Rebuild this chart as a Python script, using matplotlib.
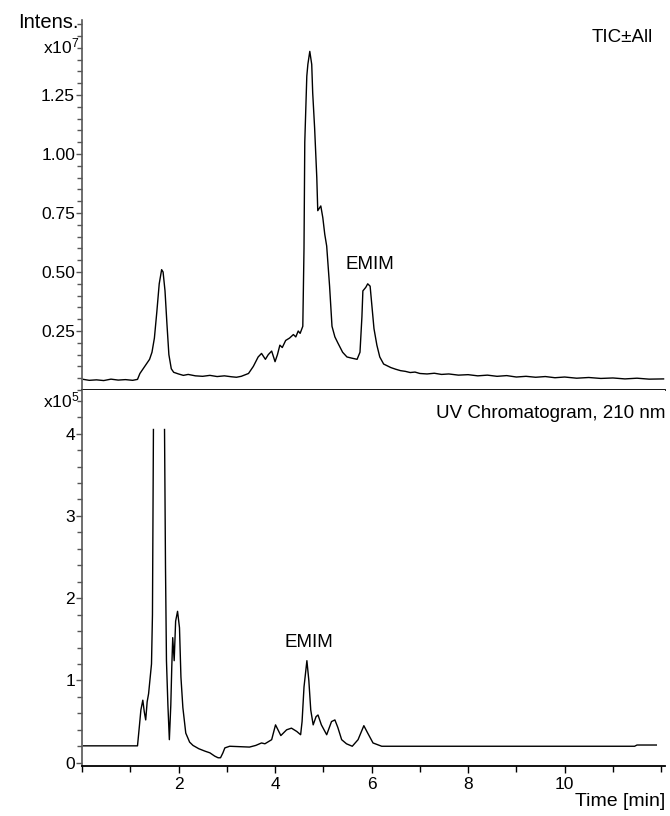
import matplotlib
matplotlib.use("Agg")
import matplotlib.pyplot as plt
from matplotlib.ticker import MultipleLocator, FixedLocator

plt.rcParams['font.family'] = ['Liberation Sans', 'DejaVu Sans']
plt.rcParams['mathtext.fontset'] = 'custom'
plt.rcParams['mathtext.rm'] = 'Liberation Sans'
plt.rcParams['mathtext.it'] = 'Liberation Sans'

# ---- TIC trace (intensity in units of 1e7) ----
tic_time = [0.03, 0.15, 0.3, 0.45, 0.6, 0.75, 0.9, 1.05, 1.15, 1.2, 1.3, 1.4, 1.45, 1.5,
            1.55, 1.6, 1.65, 1.68, 1.72, 1.76, 1.8, 1.85, 1.9, 2.0, 2.1, 2.2, 2.35, 2.5,
            2.65, 2.8, 2.95, 3.1, 3.2, 3.3, 3.45, 3.55, 3.65, 3.72, 3.8, 3.86, 3.93,
            4.0, 4.05, 4.1, 4.15, 4.22, 4.3, 4.38, 4.43, 4.48, 4.52, 4.575, 4.6, 4.616,
            4.658, 4.68, 4.72, 4.76, 4.78, 4.82, 4.865, 4.885, 4.948, 4.99, 5.03, 5.07,
            5.13, 5.18, 5.24, 5.30, 5.40, 5.49, 5.59, 5.70, 5.76, 5.80, 5.82, 5.88,
            5.92, 5.97, 6.01, 6.05, 6.11, 6.17, 6.25, 6.4, 6.5, 6.6, 6.7, 6.8, 6.9, 7.0,
            7.15, 7.3, 7.45, 7.6, 7.8, 8.0, 8.2, 8.4, 8.6, 8.8, 9.0, 9.2, 9.4, 9.6, 9.8,
            10.0, 10.25, 10.5, 10.75, 11.0, 11.25, 11.5, 11.75, 12.05]
tic_value = [0.045, 0.041, 0.043, 0.040, 0.046, 0.042, 0.044, 0.041, 0.045, 0.07, 0.10,
             0.13, 0.16, 0.22, 0.33, 0.45, 0.51, 0.50, 0.42, 0.28, 0.15, 0.09, 0.075,
             0.068, 0.062, 0.066, 0.060, 0.058, 0.062, 0.057, 0.060, 0.056, 0.054, 0.058,
             0.07, 0.10, 0.14, 0.155, 0.13, 0.15, 0.165, 0.12, 0.15, 0.19, 0.18, 0.21,
             0.22, 0.235, 0.225, 0.25, 0.24, 0.27, 0.60, 1.05, 1.33, 1.38, 1.435, 1.38,
             1.26, 1.11, 0.90, 0.76, 0.78, 0.73, 0.66, 0.61, 0.44, 0.27, 0.225, 0.20,
             0.16, 0.14, 0.135, 0.13, 0.16, 0.31, 0.42, 0.435, 0.45, 0.44, 0.35, 0.26,
             0.19, 0.14, 0.11, 0.095, 0.088, 0.082, 0.079, 0.074, 0.076, 0.070, 0.068,
             0.071, 0.066, 0.068, 0.063, 0.065, 0.060, 0.063, 0.058, 0.061, 0.055,
             0.058, 0.054, 0.057, 0.052, 0.055, 0.050, 0.053, 0.049, 0.051, 0.047,
             0.050, 0.046, 0.047]

# ---- UV trace at 210 nm (units of 1e5); None = off-scale segment ----
uv_time = [0.03, 1.15, 1.19, 1.22, 1.26, 1.29, 1.32, 1.35, 1.38, 1.44, 1.46, 1.48, 1.60,
           1.71, 1.73, 1.75, 1.78, 1.81, 1.84, 1.86, 1.88, 1.91, 1.94, 1.98, 2.02, 2.05,
           2.09, 2.15, 2.23, 2.3, 2.42, 2.55, 2.65, 2.75, 2.82, 2.87, 2.92, 2.96, 3.06,
           3.47, 3.6, 3.72, 3.79, 3.93, 4.01, 4.12, 4.24, 4.34, 4.45, 4.53, 4.56, 4.6,
           4.66, 4.7, 4.74, 4.79, 4.85, 4.89, 4.96, 5.07, 5.17, 5.24, 5.3, 5.38, 5.48,
           5.6, 5.72, 5.84, 5.92, 6.03, 6.21, 11.45, 11.5, 11.9]
uv_value = [0.205, 0.205, 0.45, 0.64, 0.76, 0.62, 0.52, 0.74, 0.84, 1.2, 1.8, 4.05, None,
            4.05, 2.38, 1.24, 0.7, 0.28, 0.7, 1.16, 1.52, 1.24, 1.72, 1.84, 1.64, 1.04,
            0.67, 0.36, 0.25, 0.21, 0.17, 0.14, 0.12, 0.08, 0.06, 0.06, 0.12, 0.18, 0.2,
            0.19, 0.21, 0.24, 0.23, 0.28, 0.46, 0.33, 0.40, 0.42, 0.38, 0.34, 0.5, 0.92,
            1.24, 1.0, 0.64, 0.46, 0.56, 0.58, 0.46, 0.34, 0.5, 0.52, 0.43, 0.28, 0.23,
            0.2, 0.28, 0.45, 0.36, 0.24, 0.2, 0.2, 0.215, 0.215]

top_ticks = [0.25, 0.50, 0.75, 1.00, 1.25]
top_ticklabels = ["0.25", "0.50", "0.75", "1.00", "1.25"]
bot_ticks = [0, 1, 2, 3, 4]
x_ticks = [2, 4, 6, 8, 10]

W, H = 670, 816
fig = plt.figure(figsize=(W / 100, H / 100), dpi=100)
L, R = 82 / W, 665 / W
ax1 = fig.add_axes([L, 1 - 390 / H, R - L, (390 - 20) / H])
ax2 = fig.add_axes([L, 1 - 766 / H, R - L, (766 - 390) / H], sharex=ax1)

lw = 1.0
ax1.plot(tic_time, tic_value, color='black', lw=lw)
uv_plot = [float('nan') if v is None else v for v in uv_value]
ax2.plot(uv_time, uv_plot, color='black', lw=lw)

ax1.set_xlim(0, 12.08)
ax1.set_ylim(0, 1.568)
ax2.set_ylim(-0.04, 4.53)

gray = '#555555'
for ax in (ax1, ax2):
    ax.spines['top'].set_visible(False)
    ax.spines['right'].set_visible(False)
    ax.spines['left'].set_color(gray)
    ax.spines['left'].set_linewidth(1.2)
    ax.spines['bottom'].set_color('black')
    ax.spines['bottom'].set_linewidth(1.3)
    ax.tick_params(axis='y', which='major', direction='out', length=4, width=1.0,
                   color=gray, labelsize=12.5, pad=1)
    ax.tick_params(axis='y', which='minor', direction='out', length=3.5, width=1.0,
                   color=gray)

ax1.yaxis.set_major_locator(FixedLocator(top_ticks))
ax1.set_yticklabels(top_ticklabels)
ax1.yaxis.set_minor_locator(MultipleLocator(0.05))
ax1.tick_params(axis='x', which='both', bottom=False, labelbottom=False)

ax2.yaxis.set_major_locator(FixedLocator(bot_ticks))
ax2.yaxis.set_minor_locator(MultipleLocator(0.2))
ax2.xaxis.set_major_locator(FixedLocator(x_ticks))
ax2.xaxis.set_minor_locator(MultipleLocator(1))
ax2.tick_params(axis='x', which='major', direction='out', length=5, width=1.0,
                labelsize=12.5, pad=3)
ax2.tick_params(axis='x', which='minor', direction='out', length=4, width=1.0)

fs = 13.5
fig.text(79 / W, 1 - 23 / H, "Intens.", ha='right', va='center', fontsize=14.5)
fig.text(79 / W, 1 - 46 / H, r"x10$^{7}$", ha='right', va='center', fontsize=12.5)
fig.text(79 / W, 1 - 400 / H, r"x10$^{5}$", ha='right', va='center', fontsize=12.5)
fig.text(653 / W, 1 - 37 / H, "TIC\u00b1All", ha='right', va='center', fontsize=fs)
fig.text(665 / W, 1 - 413 / H, "UV Chromatogram, 210 nm", ha='right', va='center', fontsize=fs)
fig.text(665 / W, 1 - 801 / H, "Time [min]", ha='right', va='center', fontsize=14)
ax1.text(5.96, 0.53, "EMIM", ha='center', va='center', fontsize=fs)
ax2.text(4.70, 1.46, "EMIM", ha='center', va='center', fontsize=fs)

fig.savefig("out.png", dpi=100)
